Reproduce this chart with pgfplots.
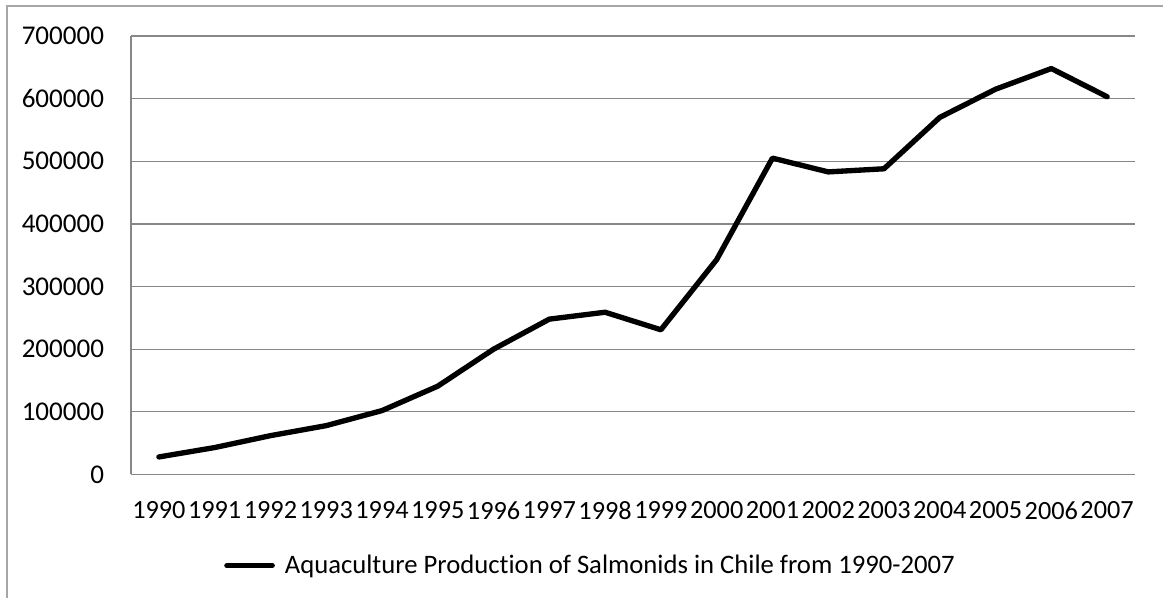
\documentclass[border=0pt]{standalone}
\usepackage{pgfplots}
\pgfplotsset{compat=1.18}
\usepackage{fontspec}
\setmainfont[Ligatures={NoCommon}]{Carlito}
\definecolor{gridgray}{HTML}{878787}
\definecolor{framegray}{HTML}{A6A6A6}
\pgfplotstableread{
x year value
0 1990 28000
1 1991 43000
2 1992 62000
3 1993 78000
4 1994 102000
5 1995 141000
6 1996 200000
7 1997 248000
8 1998 259000
9 1999 231000
10 2000 343000
11 2001 505000
12 2002 483000
13 2003 488000
14 2004 570000
15 2005 615000
16 2006 648000
17 2007 603000
}\datatable
\begin{document}
\begin{tikzpicture}
\useasboundingbox (0pt,0pt) rectangle (872.25pt,448.5pt);
\draw[framegray,line width=0.9pt] (5.25pt,-10pt) -- (5.25pt,444pt) -- (890pt,444pt);
\begin{axis}[
  at={(98.25pt,92.625pt)}, anchor=south west,
  scale only axis,
  width=753pt, height=328.9pt,
  xmin=-0.5, xmax=17.5,
  ymin=0, ymax=700000,
  xtick={0,...,17},
  xticklabels={1990,1991,1992,1993,1994,1995,1996,1997,1998,1999,2000,2001,2002,2003,2004,2005,2006,2007},
  ytick={0,100000,...,700000},
  scaled y ticks=false,
  yticklabel={\pgfmathprintnumber[fixed,1000 sep={}]{\tick}},
  /pgf/number format/assume math mode=true,
  tick style={draw=none},
  axis x line*=bottom, axis y line*=left,
  axis line style={gridgray,line width=0.9pt,-},
  ymajorgrids, grid style={gridgray,line width=0.9pt},
  ticklabel style={text=black,inner sep=0pt},
  yticklabel style={font=\fontsize{20.3pt}{22pt}\selectfont},
  xticklabel style={font=\fontsize{19.7pt}{22pt}\selectfont},
  yticklabel shift=20pt,
  xticklabel shift=20pt,
  legend style={at={(0.4567,-0.2078)},anchor=center,draw=none,fill=none,
    font=\fontsize{20pt}{22pt}\selectfont, inner sep=0pt,
    nodes={inner sep=0pt}, column sep=7.5pt},
  legend image code/.code={\draw[line width=4pt,line cap=round] (0pt,0pt) -- (34pt,0pt);},
]
\addplot[black,line width=4pt,line join=round,line cap=round] table[x=x,y=value]{\datatable};
\addlegendentry{Aquaculture Production of Salmonids in Chile from 1990-2007}
\end{axis}
\end{tikzpicture}
\end{document}
